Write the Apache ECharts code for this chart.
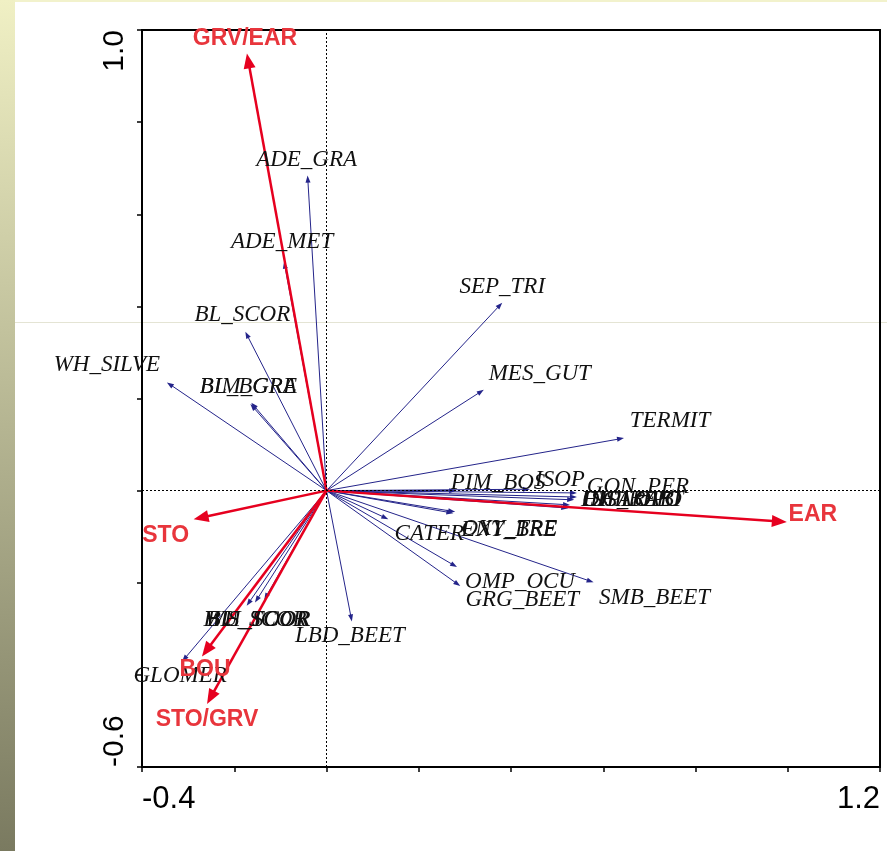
<!DOCTYPE html>
<html><head><meta charset="utf-8">
<script src="https://cdn.jsdelivr.net/npm/echarts@6/dist/echarts.min.js"></script>
<style>html,body{margin:0;padding:0;background:#fff}#c{width:887px;height:851px}</style>
</head><body><div id="c"></div>
<script>
// ---------- DATA ----------
const speciesNames = ['ADE_GRA','ADE_MET','BL_SCOR','WH_SILVE','BL_BGRE','BIM_GRA','SEP_TRI','MES_GUT','TERMIT',
  'PIM_BOS','ISOP','GON_PER','DIPLOPO','HIS_BEET','SCARAB','CHILOPO','OXY_TRE','ENT_BRE','CATER',
  'OMP_OCU','GRG_BEET','SMB_BEET','LBD_BEET','BU_SCOR','WH_SCOR','HIS_TOOR','GLOMER'];
const speciesX = [-0.041,-0.092,-0.176,-0.346,-0.165,-0.163,0.381,0.341,0.645,
  0.281,0.441,0.543,0.543,0.524,0.537,0.528,0.275,0.279,0.134,
  0.283,0.290,0.579,0.055,-0.173,-0.135,-0.155,-0.313];
const speciesY = [0.684,0.497,0.345,0.235,0.188,0.191,0.408,0.219,0.114,
  0.000,0.003,-0.005,-0.014,-0.038,-0.020,-0.031,-0.049,-0.046,-0.062,
  -0.166,-0.207,-0.199,-0.284,-0.250,-0.237,-0.243,-0.371];
const envNames = ['GRV/EAR','EAR','STO','BOU','STO/GRV'];
const envX = [-0.1725, 0.998, -0.288, -0.270, -0.259];
const envY = [0.949, -0.068, -0.062, -0.360, -0.463];
const xTickValues = [-0.4, 1.2];
const xTickLabels = ['-0.4', '1.2'];
const yTickValues = [-0.6, 1.0];
const yTickLabels = ['-0.6', '1.0'];

// ---------- LAYOUT (label placement, pixels relative to arrow tip) ----------
const speciesLabelOffsets = [[-1,-16],[-2,-20],[-3,-17],[-60,-17],[-2,-17],[-3,-16],[0,-16],[56,-16],[46,-17],
  [42,-8],[30,-9],[61,-6],[55,3],[64,-8],[58,0],[62,-5],[56,16],[54,18],[41,15],
  [63,15],[62,14],[61,16],[-2,15],[10,14],[-7,20],[2,17],[-2,14]];
const envLabelOffsets = [[-2,-15],[26,-7],[-28,16],[3,13],[0,16]];

const chart = echarts.init(document.getElementById('c'), null, {renderer:'canvas'});

function arrowItem(color, lw, headLen, headHalf) {
  return function(params, api) {
    const o = api.coord([0, 0]);
    const t = api.coord([api.value(0), api.value(1)]);
    const dx = t[0]-o[0], dy = t[1]-o[1];
    const L = Math.hypot(dx, dy) || 1;
    const ux = dx/L, uy = dy/L, px = -uy, py = ux;
    const bx = t[0]-ux*headLen, by = t[1]-uy*headLen;
    return {type:'group', children:[
      {type:'line', shape:{x1:o[0], y1:o[1], x2:bx+ux, y2:by+uy}, style:{stroke:color, lineWidth:lw}},
      {type:'polygon', shape:{points:[[t[0],t[1]],[bx+px*headHalf,by+py*headHalf],[bx-px*headHalf,by-py*headHalf]]},
        style:{fill:color}}
    ]};
  };
}
function labelItem(names, offsets, font, color) {
  return function(params, api) {
    const i = params.dataIndex;
    const t = api.coord([api.value(0), api.value(1)]);
    return {type:'text', x:t[0]+offsets[i][0], y:t[1]+offsets[i][1],
      style:{text:names[i], font:font, fill:color, align:'center', verticalAlign:'middle'}};
  };
}
function tickFmt(vals, labs) {
  return function(v) {
    for (let k = 0; k < vals.length; k++) if (Math.abs(v - vals[k]) < 1e-6) return labs[k];
    return '';
  };
}

const speciesData = speciesX.map((x, i) => [x, speciesY[i]]);
const envData = envX.map((x, i) => [x, envY[i]]);

chart.setOption({
  animation:false,
  backgroundColor:'#ffffff',
  graphic:[
    {type:'rect', shape:{x:0, y:0, width:15, height:851}, z:-10,
      style:{fill:new echarts.graphic.LinearGradient(0,0,0,1,[{offset:0,color:'#f0f0c4'},{offset:1,color:'#7a7a60'}])}},
    {type:'rect', shape:{x:15, y:0, width:872, height:2}, z:-10, style:{fill:'#f2f2cc'}},
    {type:'line', shape:{x1:15, y1:322.5, x2:887, y2:322.5}, z:-10, style:{stroke:'#e4e4d4', lineWidth:1}}
  ],
  grid:{left:142, right:7, top:30, bottom:84, show:true, borderColor:'#000', borderWidth:2, backgroundColor:'transparent'},
  xAxis:{type:'value', min:-0.4, max:1.2, interval:0.2,
    splitLine:{show:false},
    axisLine:{onZero:false, lineStyle:{color:'#000', width:2}},
    axisTick:{length:5, lineStyle:{color:'#000', width:1.5}},
    axisLabel:{formatter:tickFmt(xTickValues, xTickLabels), fontSize:31, color:'#000', fontFamily:'Liberation Sans',
      margin:17, alignMinLabel:'left', alignMaxLabel:'right', showMinLabel:true, showMaxLabel:true}},
  yAxis:{type:'value', min:-0.6, max:1.0, interval:0.2,
    splitLine:{show:false},
    axisLine:{onZero:false, lineStyle:{color:'#000', width:2}},
    axisTick:{length:5, lineStyle:{color:'#000', width:1.5}},
    axisLabel:{formatter:tickFmt(yTickValues, yTickLabels), fontSize:30, color:'#000', fontFamily:'Liberation Sans',
      rotate:90, margin:12, alignMinLabel:'left', alignMaxLabel:'right', showMinLabel:true, showMaxLabel:true}},
  series:[
    {type:'custom', name:'species', data:speciesData, encode:{x:0, y:1}, z:2, silent:true,
      renderItem:arrowItem('#24248a', 1, 7, 2.5),
      markLine:{silent:true, symbol:'none', label:{show:false},
        lineStyle:{color:'#000', type:[2,2], width:1}, data:[{xAxis:0},{yAxis:0}]}},
    {type:'custom', name:'env', data:envData, encode:{x:0, y:1}, z:3, silent:true,
      renderItem:arrowItem('#e6001f', 2.5, 15, 6)},
    {type:'custom', name:'speciesLabels', data:speciesData, encode:{x:0, y:1}, z:4, silent:true,
      renderItem:labelItem(speciesNames, speciesLabelOffsets, 'italic 23px "Liberation Serif"', '#111')},
    {type:'custom', name:'envLabels', data:envData, encode:{x:0, y:1}, z:5, silent:true,
      renderItem:labelItem(envNames, envLabelOffsets, 'bold 23px "Liberation Sans"', '#e8353c')}
  ]
});
</script></body></html>
